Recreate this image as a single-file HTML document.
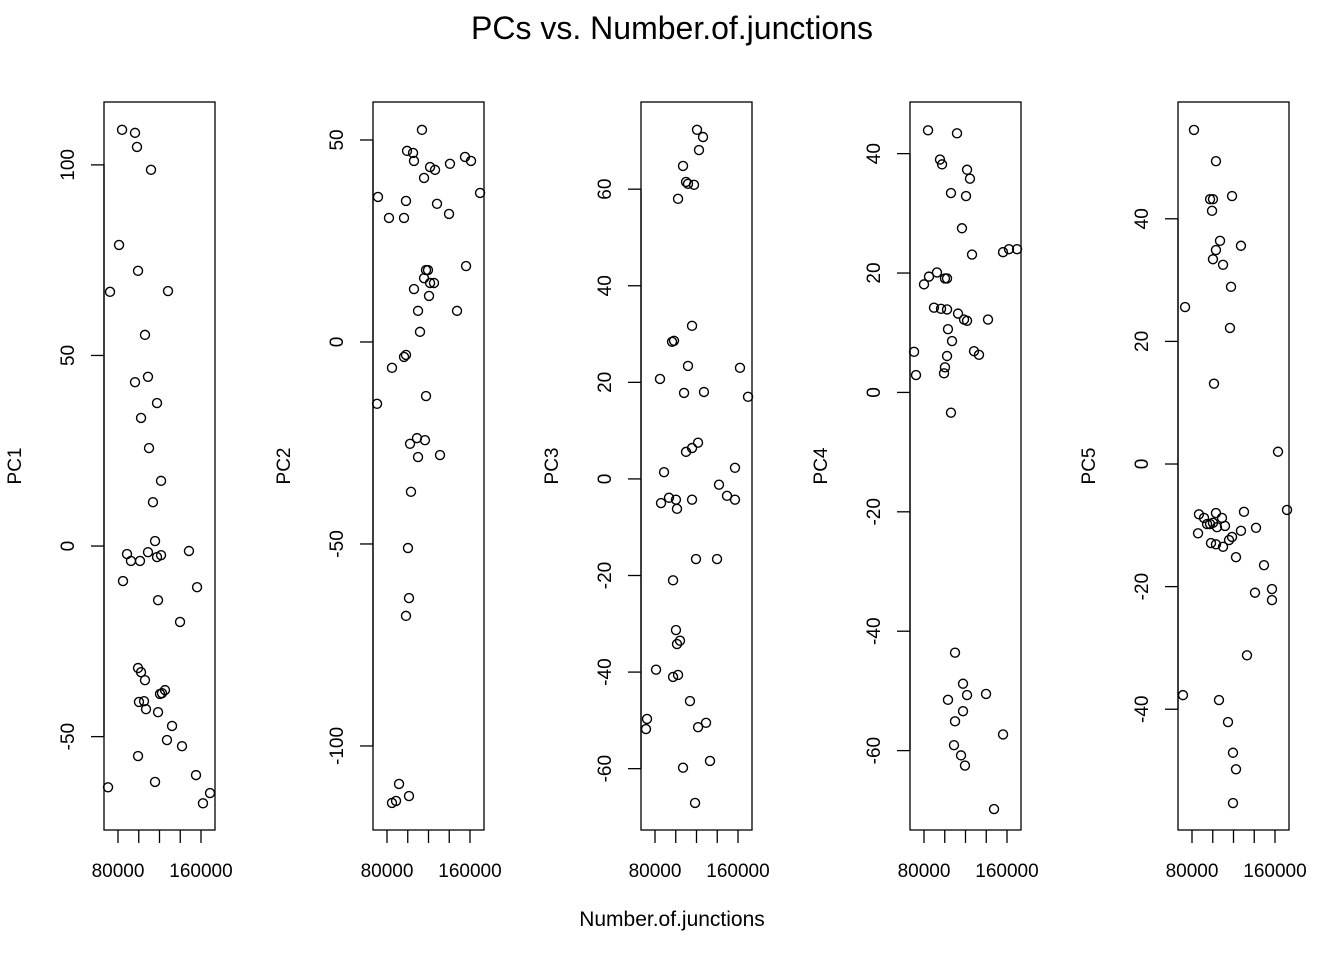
<!DOCTYPE html>
<html><head><meta charset="utf-8"><style>
html,body{margin:0;padding:0;background:#fff;}
svg{display:block;font-family:"Liberation Sans",Arial,sans-serif;}
</style></head><body>
<svg id="chart" width="1344" height="960" viewBox="0 0 1344 960" xmlns="http://www.w3.org/2000/svg">
<text x="672" y="39" text-anchor="middle" font-size="32">PCs vs. Number.of.junctions</text>
<text x="672" y="926" text-anchor="middle" font-size="21">Number.of.junctions</text>
</svg>
<script>
// x values in thousands of junctions
const pc1X=[83.9,96.4,98.3,111.8,81.0,72.3,99.3,128.2,106.0,108.9,96.4,117.6,102.2,109.9,113.7,121.5,115.7,88.7,92.5,101.2,108.9,117.6,121.5,118.6,148.4,156.2,84.8,139.8,99.3,102.2,106.0,100.2,105.1,107.0,118.6,120.5,122.4,125.3,132.1,127.2,141.7,99.3,115.7,155.2,70.4,161.9,168.7];
const pc1Y=[109.2,108.4,104.7,98.7,79.0,66.7,72.2,66.9,55.4,44.4,43.0,37.5,33.6,25.7,11.5,17.1,1.3,-2.1,-3.9,-3.9,-1.6,-2.9,-2.4,-14.2,-1.3,-10.8,-9.2,-19.9,-32.0,-33.1,-35.2,-40.9,-40.7,-42.8,-43.6,-38.8,-38.6,-37.8,-47.2,-50.9,-52.5,-55.1,-61.9,-60.1,-63.3,-67.5,-64.8];
const pc2X=[113.7,99.3,105.1,121.5,126.3,106.0,115.7,140.7,155.2,161.0,169.7,128.2,139.8,71.3,81.9,96.4,98.3,117.6,119.5,115.7,121.5,125.3,106.0,120.5,109.9,147.5,156.2,111.8,84.8,96.4,98.3,117.6,108.9,116.6,102.2,109.9,131.1,103.1,100.2,101.2,98.3,70.4,91.6,101.2,88.7,84.8];
const pc2Y=[52.5,47.3,46.8,43.3,42.6,44.8,40.6,44.1,45.8,44.8,36.9,34.2,31.7,35.9,30.7,30.7,34.9,17.8,17.8,15.8,14.6,14.6,13.1,11.4,7.7,7.7,18.8,2.5,-6.4,-3.7,-3.2,-13.4,-23.8,-24.3,-25.2,-28.5,-28.0,-37.1,-51.0,-63.4,-67.8,-15.3,-109.4,-112.4,-113.6,-114.1];
const pc3X=[120.5,126.3,122.4,107.0,109.9,111.8,117.6,102.2,115.7,96.4,98.3,111.8,84.8,108.0,127.2,88.7,109.9,115.7,121.5,85.8,93.5,100.2,101.2,115.7,141.7,149.4,157.1,157.1,161.9,169.7,119.5,139.8,97.4,100.2,101.2,104.1,81.0,97.4,102.2,113.7,121.5,129.2,72.3,71.3,107.0,133.0,118.6];
const pc3Y=[72.3,70.8,68.1,64.8,61.5,61.1,60.9,58.0,31.7,28.4,28.6,23.4,20.7,17.8,18.0,1.4,5.6,6.4,7.5,-5.0,-3.9,-4.3,-6.2,-4.3,-1.2,-3.5,-4.3,2.3,23.0,17.0,-16.6,-16.6,-21.0,-31.3,-34.2,-33.5,-39.5,-41.0,-40.6,-46.0,-51.4,-50.5,-49.7,-51.8,-59.8,-58.4,-67.1];
const pc4X=[83.9,95.4,97.4,111.8,121.5,124.3,106.0,120.5,116.6,126.3,156.2,161.9,169.7,92.5,84.8,80.0,100.2,102.2,89.6,96.4,102.2,112.8,118.6,121.5,141.7,103.1,107.0,128.2,133.0,102.2,100.2,99.3,70.4,72.3,106.0,109.9,103.1,117.6,121.5,139.8,117.6,109.9,108.9,115.7,119.5,156.2,147.5];
const pc4Y=[43.9,39.0,38.2,43.4,37.3,35.8,33.4,32.9,27.5,23.1,23.5,24.0,24.0,20.1,19.4,18.1,19.1,19.1,14.2,14.0,13.9,13.2,12.2,12.0,12.2,10.6,8.6,6.9,6.3,6.1,4.2,3.2,6.8,2.9,-3.4,-43.6,-51.5,-48.8,-50.7,-50.5,-53.4,-55.1,-59.1,-60.8,-62.5,-57.3,-69.8];
const pc5X=[81.9,103.1,97.4,100.2,99.3,118.6,107.0,127.2,103.1,100.2,109.9,117.6,73.3,116.6,101.2,162.9,171.6,86.7,85.8,91.6,94.5,97.4,100.2,103.1,104.1,108.9,111.8,103.1,98.3,109.9,115.7,118.6,122.4,127.2,130.1,141.7,149.4,140.7,157.1,157.1,133.0,71.3,106.0,114.7,119.5,122.4,119.5];
const pc5Y=[54.5,49.4,43.2,43.2,41.3,43.7,36.4,35.6,34.9,33.4,32.5,28.9,25.6,22.2,13.1,2.0,-7.5,-8.2,-11.3,-8.8,-9.8,-9.8,-9.6,-8.0,-10.3,-8.8,-10.1,-13.1,-12.9,-13.5,-12.4,-11.9,-15.2,-10.9,-7.8,-10.4,-16.5,-21.0,-20.4,-22.2,-31.2,-37.7,-38.5,-42.1,-47.1,-49.8,-55.3];
const xTicks=[80,100,120,140,160];
const xTickLabels=["80000","","","","160000"];
const pc1Ticks=[-50,0,50,100];
const pc2Ticks=[-100,-50,0,50];
const pc3Ticks=[-60,-40,-20,0,20,40,60];
const pc4Ticks=[-60,-40,-20,0,20,40];
const pc5Ticks=[-40,-20,0,20,40];
const xDomain=[66.5,173.5];

const panels=[
 {name:"PC1",xs:pc1X,ys:pc1Y,ticks:pc1Ticks,left:104,dom:[-74.5,116.5]},
 {name:"PC2",xs:pc2X,ys:pc2Y,ticks:pc2Ticks,left:373,dom:[-120.8,59.4]},
 {name:"PC3",xs:pc3X,ys:pc3Y,ticks:pc3Ticks,left:641,dom:[-72.7,78.05]},
 {name:"PC4",xs:pc4X,ys:pc4Y,ticks:pc4Ticks,left:910,dom:[-73.3,48.65]},
 {name:"PC5",xs:pc5X,ys:pc5Y,ticks:pc5Ticks,left:1178,dom:[-59.7,59.05]}
];
const NS="http://www.w3.org/2000/svg";
const svg=document.getElementById('chart');
const TOP=102,BOT=830,W=111;
function mk(tag,attrs,parent){const e=document.createElementNS(NS,tag);for(const k in attrs)e.setAttribute(k,attrs[k]);(parent||svg).appendChild(e);return e;}
panels.forEach(p=>{
 const g=mk('g',{});
 
 
 const xs=v=>p.left+(v-xDomain[0])/(xDomain[1]-xDomain[0])*W;
 const ys=v=>BOT-(v-p.dom[0])/(p.dom[1]-p.dom[0])*(BOT-TOP);
 const fr=mk('rect',{x:p.left,y:TOP,width:W,height:BOT-TOP,fill:'none',stroke:'#000','stroke-width':1.3},g);
 
 
 xTicks.forEach((t,i)=>{
  const x=xs(t);
  const l=mk('line',{x1:x,x2:x,y1:BOT,y2:BOT+13,stroke:'#000','stroke-width':1.3},g);
  
  
  if(xTickLabels[i]){const tx=mk('text',{x:x,y:BOT+47,'text-anchor':'middle','font-size':19},g);tx.textContent=xTickLabels[i];
   
   }
 });
 const a=ys(p.ticks[0]),b=ys(p.ticks[p.ticks.length-1]);
 mk('line',{x1:p.left,x2:p.left,y1:a,y2:b,stroke:'#000','stroke-width':1.3},g);
 p.ticks.forEach(t=>{
  const y=ys(t);
  const l=mk('line',{x1:p.left-13,x2:p.left,y1:y,y2:y,stroke:'#000','stroke-width':1.3},g);
  
  
  const tx=mk('text',{x:0,y:0,'text-anchor':'middle','font-size':19,transform:`translate(${p.left-30},${y}) rotate(-90)`},g);
  tx.textContent=String(t);
  
  
 });
 const yt=mk('text',{x:0,y:0,'text-anchor':'middle','font-size':19,transform:`translate(${p.left-83},466) rotate(-90)`},g);
 yt.textContent=p.name;
 
 
 p.xs.forEach((xv,i)=>{
  const c=mk('circle',{cx:xs(xv),cy:ys(p.ys[i]),r:4.5,fill:'none',stroke:'#000','stroke-width':1.4},g);
  
  
 });
});
</script>
</body></html>
